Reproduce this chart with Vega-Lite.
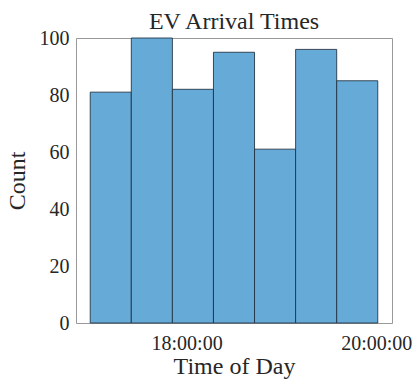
{
  "$schema": "https://vega.github.io/schema/vega-lite/v6.json",
  "width": 316,
  "height": 285,
  "autosize": {"type": "none"},
  "padding": {"left": 76, "top": 38, "right": 25, "bottom": 57},
  "background": "white",
  "config": {
    "font": "Liberation Serif",
    "view": {"stroke": "#999999", "strokeWidth": 1},
    "axis": {"labelColor": "#262626", "titleColor": "#262626", "domain": false, "grid": false, "labelFont": "Liberation Serif", "titleFont": "Liberation Serif", "titleFontWeight": "normal"}
  },
  "title": {"text": "EV Arrival Times", "fontSize": 24, "fontWeight": "normal", "font": "Liberation Serif", "color": "#262626", "offset": -6},
  "data": {
    "values": [
      {"start": "2024-01-01T16:59:00Z", "end": "2024-01-01T17:25:00Z", "count": 81},
      {"start": "2024-01-01T17:25:00Z", "end": "2024-01-01T17:51:00Z", "count": 100},
      {"start": "2024-01-01T17:51:00Z", "end": "2024-01-01T18:17:00Z", "count": 82},
      {"start": "2024-01-01T18:17:00Z", "end": "2024-01-01T18:43:00Z", "count": 95},
      {"start": "2024-01-01T18:43:00Z", "end": "2024-01-01T19:09:00Z", "count": 61},
      {"start": "2024-01-01T19:09:00Z", "end": "2024-01-01T19:35:00Z", "count": 96},
      {"start": "2024-01-01T19:35:00Z", "end": "2024-01-01T20:01:00Z", "count": 85}
    ]
  },
  "mark": {"type": "rect", "fill": "#66aad7", "stroke": "#1f2f40", "strokeWidth": 1, "strokeOpacity": 0.85},
  "encoding": {
    "x": {
      "field": "start",
      "type": "temporal",
      "scale": {"type": "utc", "nice": false, "domain": [
        {"year": 2024, "month": 1, "date": 1, "hours": 16, "minutes": 50, "utc": true},
        {"year": 2024, "month": 1, "date": 1, "hours": 20, "minutes": 10, "utc": true}
      ]},
      "axis": {
        "title": "Time of Day",
        "titleFont": "Liberation Serif",
        "titleFontSize": 24,
        "titlePadding": 1,
        "labelFont": "Liberation Serif",
        "labelFontSize": 20,
        "labelPadding": 10,
        "ticks": false,
        "labelExpr": "utcFormat(datum.value, '%H:%M:%S')",
        "values": [
          {"year": 2024, "month": 1, "date": 1, "hours": 18, "utc": true},
          {"year": 2024, "month": 1, "date": 1, "hours": 20, "utc": true}
        ]
      }
    },
    "x2": {"field": "end"},
    "y": {
      "field": "count",
      "type": "quantitative",
      "scale": {"domain": [0, 100], "nice": false},
      "axis": {
        "title": "Count",
        "titleFont": "Liberation Serif",
        "titleFontSize": 24,
        "titlePadding": 10,
        "labelFont": "Liberation Serif",
        "labelFontSize": 20,
        "labelPadding": 7,
        "ticks": false,
        "values": [0, 20, 40, 60, 80, 100]
      }
    }
  }
}
